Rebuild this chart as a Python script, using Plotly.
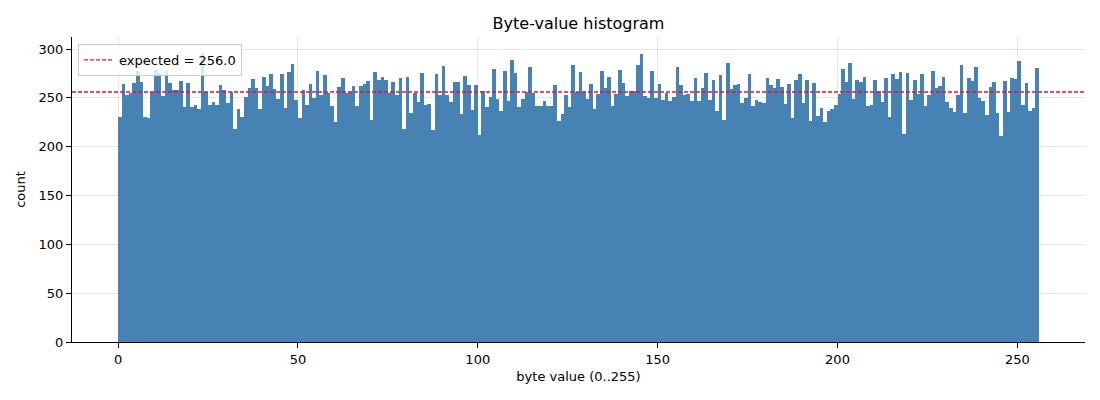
import plotly.graph_objects as go

byte_values = list(range(256))
counts = [
    230, 264, 253, 255, 265, 278, 266, 230, 229, 256, 279, 275, 252, 277, 265, 258, 258, 267, 241, 265,
    241, 243, 239, 296, 256, 243, 246, 243, 263, 258, 245, 256, 218, 239, 230, 251, 260, 269, 260, 239, 271, 262,
    274, 259, 249, 274, 240, 276, 285, 248, 229, 258, 243, 264, 250, 277, 253, 273, 255, 242, 225, 261, 270, 255,
    256, 262, 242, 262, 264, 267, 227, 276, 268, 271, 268, 255, 266, 253, 270, 218, 271, 234, 255, 246, 275, 243,
    244, 217, 274, 253, 283, 253, 246, 266, 266, 233, 272, 263, 238, 263, 212, 257, 241, 251, 280, 249, 237, 278,
    247, 289, 275, 241, 249, 256, 282, 255, 242, 242, 247, 242, 242, 263, 226, 233, 253, 241, 284, 256, 276, 256,
    249, 264, 239, 254, 278, 260, 271, 242, 254, 279, 265, 252, 257, 257, 284, 295, 252, 250, 278, 250, 264,
    248, 255, 247, 251, 282, 263, 253, 254, 247, 270, 247, 260, 275, 248, 268, 237, 273, 227, 286, 259, 263, 264,
    245, 250, 274, 242, 248, 246, 245, 270, 263, 260, 269, 261, 244, 264, 229, 268, 274, 245, 268, 226, 265, 231,
    240, 225, 237, 239, 243, 254, 280, 266, 286, 249, 268, 266, 271, 242, 243, 268, 257, 246, 270, 230, 274, 269,
    276, 213, 275, 248, 268, 254, 274, 242, 253, 278, 260, 262, 271, 246, 240, 235, 253, 284, 234, 270, 267,
    282, 250, 247, 232, 261, 266, 234, 211, 267, 236, 270, 269, 288, 243, 265, 237, 240, 281,
]
assert len(counts) == 256
expected = 256.0
x_ticks = [0, 50, 100, 150, 200, 250]
y_ticks = [0, 50, 100, 150, 200, 250, 300]
x_range = [-12.8, 268.8]
y_range = [0, 312.3]

font = "DejaVu Sans"
grid_col = "rgba(176,176,176,0.3)"

fig = go.Figure()
fig.add_trace(go.Bar(
    x=byte_values, y=counts, width=1, offset=0,
    marker=dict(color="#4682b4", line=dict(width=0)),
    showlegend=False, hoverinfo="x+y",
))
fig.add_trace(go.Scatter(
    x=x_range, y=[expected, expected], mode="lines",
    line=dict(color="#e0143c", width=1.3, dash="4px,2px"),
    name=f"expected = {expected:.1f}",
))

axis_common = dict(
    showline=True, linecolor="black", linewidth=1,
    ticks="outside", ticklen=5, tickwidth=1, tickcolor="black",
    showgrid=True, gridcolor=grid_col, gridwidth=0.8,
    zeroline=False, layer="above traces", automargin=False,
    tickfont=dict(family=font, size=13, color="black"),
)

# the page body adds an 8px offset; margins compensate for it
fig.update_layout(
    width=1100, height=400,
    margin=dict(l=64, r=23, t=29, b=66),
    paper_bgcolor="white", plot_bgcolor="white",
    bargap=0,
    title=dict(text="Byte-value histogram", x=0.5, xref="paper", xanchor="center",
               y=1 - 15 / 400, yref="container", yanchor="middle",
               font=dict(family=font, size=16, color="black")),
    legend=dict(x=0.006, y=0.977, xanchor="left", yanchor="top",
                bgcolor="rgba(255,255,255,0.8)", bordercolor="#cccccc", borderwidth=1,
                font=dict(family=font, size=13, color="black")),
    xaxis=dict(range=x_range, tickvals=x_ticks,
               title=dict(text="byte value (0..255)", standoff=6,
                          font=dict(family=font, size=13, color="black")),
               **axis_common),
    yaxis=dict(range=y_range, tickvals=y_ticks,
               title=dict(text="count", standoff=10,
                          font=dict(family=font, size=13, color="black")),
               **axis_common),
)

fig.write_html("out.html")
